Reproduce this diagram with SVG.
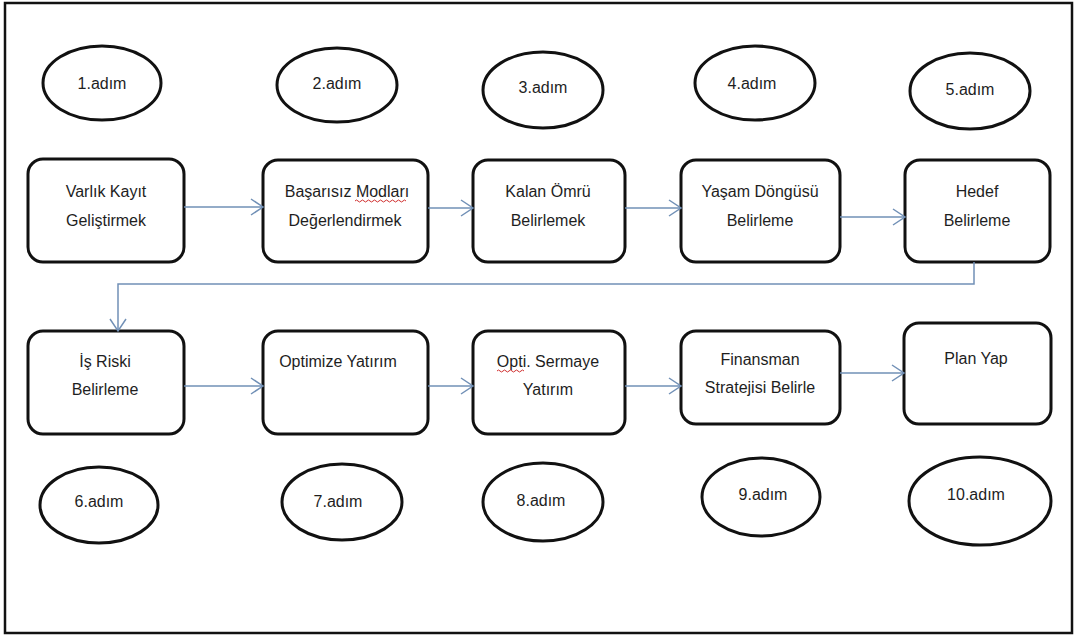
<svg xmlns="http://www.w3.org/2000/svg" width="1080" height="637" viewBox="0 0 1080 637">
  <defs>
    <style>
      .frame { fill: #ffffff; stroke: #111111; stroke-width: 2.5; }
      .box { fill: #ffffff; stroke: #111111; stroke-width: 3; }
      .oval { fill: #ffffff; stroke: #111111; stroke-width: 3; }
      .lbl { font-family: "Liberation Sans", Arial, sans-serif; font-size: 16px; fill: #1e1e1e; text-anchor: middle; }
      .link { fill: none; stroke: #7190b6; stroke-width: 1.5; }
      .squiggle { fill: none; stroke: #d03030; stroke-width: 1; }
    </style>
    <marker id="open-arrow" markerUnits="userSpaceOnUse" markerWidth="16" markerHeight="20" refX="13" refY="10" orient="auto" viewBox="0 0 16 20">
      <path d="M1,2 L13,10 L1,18" fill="none" stroke="#7190b6" stroke-width="1.5"/>
    </marker>
  </defs>

  <rect x="0" y="0" width="1080" height="637" fill="#ffffff"/>
  <rect class="frame" x="5" y="3" width="1067" height="630"/>

  <!-- step ovals, top row -->
  <g id="step1"><ellipse class="oval" cx="102" cy="83" rx="59" ry="37"/><text class="lbl" x="102" y="89">1.adım</text></g>
  <g id="step2"><ellipse class="oval" cx="337" cy="85" rx="60" ry="37"/><text class="lbl" x="337" y="89">2.adım</text></g>
  <g id="step3"><ellipse class="oval" cx="543" cy="90" rx="60" ry="38"/><text class="lbl" x="543" y="93">3.adım</text></g>
  <g id="step4"><ellipse class="oval" cx="755" cy="83" rx="60" ry="37"/><text class="lbl" x="752" y="89">4.adım</text></g>
  <g id="step5"><ellipse class="oval" cx="970" cy="91" rx="60" ry="38"/><text class="lbl" x="970" y="95">5.adım</text></g>

  <!-- process boxes, top row -->
  <g id="varlik-kayit">
    <rect class="box" x="28" y="159" width="156" height="103" rx="15"/>
    <text class="lbl" x="106" y="197">Varlık Kayıt</text>
    <text class="lbl" x="106" y="226">Geliştirmek</text>
  </g>
  <g id="basarisiz-modlar">
    <rect class="box" x="263" y="160" width="165" height="102" rx="15"/>
    <text class="lbl" x="347" y="197">Başarısız Modları</text>
    <text class="lbl" x="345" y="226">Değerlendirmek</text>
    <path class="squiggle" d="M355,201 q1.5,-2 3,0 t3,0 t3,0 t3,0 t3,0 t3,0 t3,0 t3,0 t3,0 t3,0 t3,0 t3,0 t3,0 t3,0 t3,0 t3,0 t3,0"/>
  </g>
  <g id="kalan-omru">
    <rect class="box" x="473" y="160" width="152" height="102" rx="15"/>
    <text class="lbl" x="548" y="197">Kalan Ömrü</text>
    <text class="lbl" x="548" y="226">Belirlemek</text>
  </g>
  <g id="yasam-dongusu">
    <rect class="box" x="681" y="160" width="159" height="102" rx="15"/>
    <text class="lbl" x="760" y="197">Yaşam Döngüsü</text>
    <text class="lbl" x="760" y="226">Belirleme</text>
  </g>
  <g id="hedef">
    <rect class="box" x="905" y="160" width="145" height="102" rx="15"/>
    <text class="lbl" x="977" y="197">Hedef</text>
    <text class="lbl" x="977" y="226">Belirleme</text>
  </g>

  <!-- process boxes, bottom row -->
  <g id="is-riski">
    <rect class="box" x="28" y="331" width="156" height="103" rx="15"/>
    <text class="lbl" x="105" y="367">İş Riski</text>
    <text class="lbl" x="105" y="395">Belirleme</text>
  </g>
  <g id="optimize-yatirim">
    <rect class="box" x="263" y="331" width="165" height="103" rx="15"/>
    <text class="lbl" x="338" y="367">Optimize Yatırım</text>
  </g>
  <g id="opti-sermaye">
    <rect class="box" x="473" y="331" width="152" height="103" rx="15"/>
    <text class="lbl" x="548" y="367">Opti. Sermaye</text>
    <text class="lbl" x="548" y="395">Yatırım</text>
    <path class="squiggle" d="M497,371 q1.5,-2 3,0 t3,0 t3,0 t3,0 t3,0 t3,0 t3,0 t3,0 t3,0"/>
  </g>
  <g id="finansman">
    <rect class="box" x="681" y="331" width="159" height="93" rx="15"/>
    <text class="lbl" x="760" y="365">Finansman</text>
    <text class="lbl" x="760" y="393">Stratejisi Belirle</text>
  </g>
  <g id="plan-yap">
    <rect class="box" x="904" y="323" width="147" height="101" rx="15"/>
    <text class="lbl" x="976" y="364">Plan Yap</text>
  </g>

  <!-- step ovals, bottom row -->
  <g id="step6"><ellipse class="oval" cx="99" cy="505" rx="59" ry="38"/><text class="lbl" x="99" y="507">6.adım</text></g>
  <g id="step7"><ellipse class="oval" cx="342" cy="502" rx="60" ry="38"/><text class="lbl" x="338" y="507">7.adım</text></g>
  <g id="step8"><ellipse class="oval" cx="543" cy="502" rx="60" ry="39"/><text class="lbl" x="541" y="506">8.adım</text></g>
  <g id="step9"><ellipse class="oval" cx="761" cy="497" rx="59" ry="39"/><text class="lbl" x="763" y="500">9.adım</text></g>
  <g id="step10"><ellipse class="oval" cx="980" cy="501" rx="71" ry="44"/><text class="lbl" x="976" y="500">10.adım</text></g>

  <!-- connectors -->
  <g id="connectors">
    <path class="link" marker-end="url(#open-arrow)" d="M184,207 L263,207"/>
    <path class="link" marker-end="url(#open-arrow)" d="M428,208 L473,208"/>
    <path class="link" marker-end="url(#open-arrow)" d="M625,208 L681,208"/>
    <path class="link" marker-end="url(#open-arrow)" d="M840,217 L905,217"/>
    <path class="link" marker-end="url(#open-arrow)" d="M974,262 L974,284 L118,284 L118,331"/>
    <path class="link" marker-end="url(#open-arrow)" d="M184,386 L263,386"/>
    <path class="link" marker-end="url(#open-arrow)" d="M428,386 L473,386"/>
    <path class="link" marker-end="url(#open-arrow)" d="M625,386 L681,386"/>
    <path class="link" marker-end="url(#open-arrow)" d="M840,373 L904,373"/>
  </g>
</svg>
